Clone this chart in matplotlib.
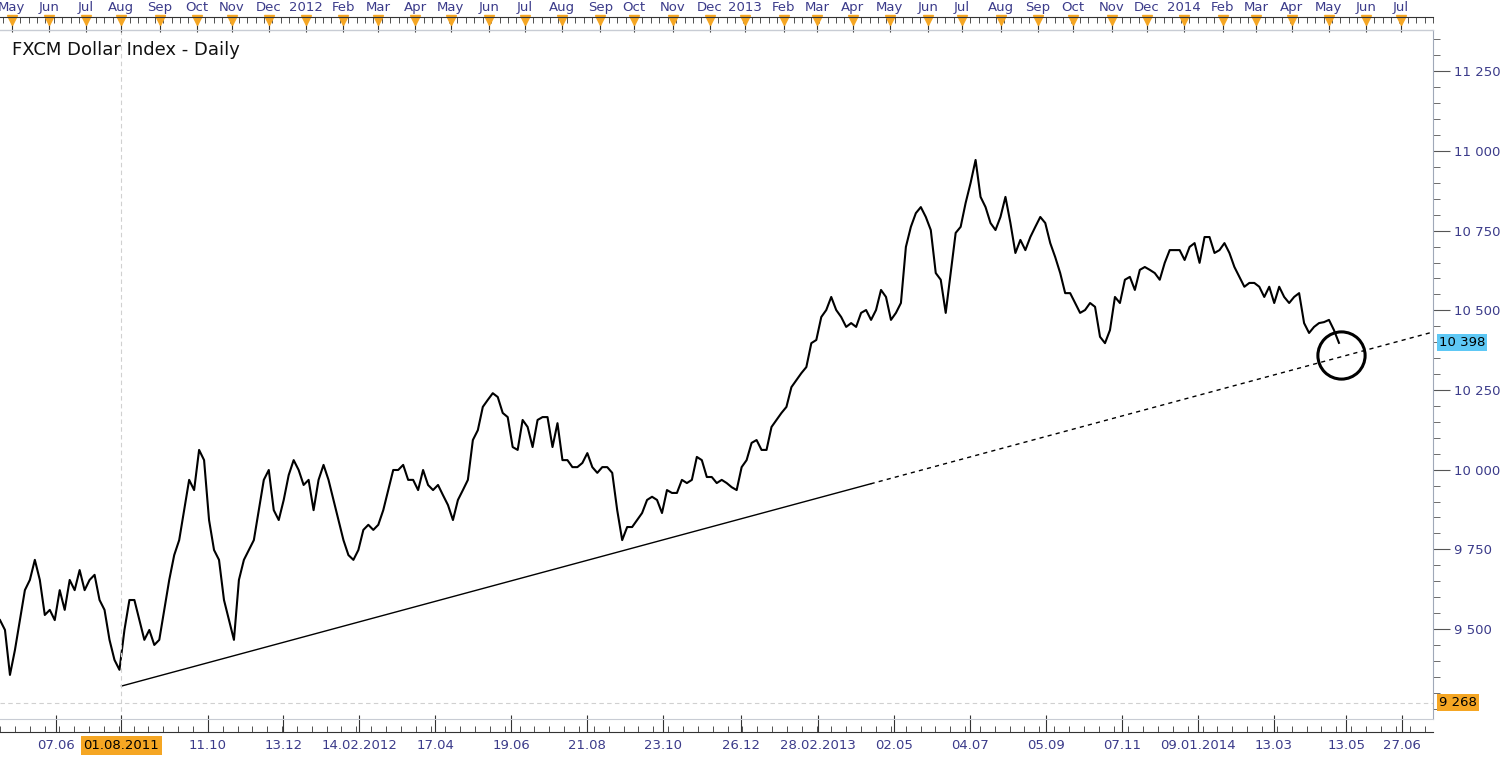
import matplotlib
matplotlib.use("Agg")
import matplotlib.pyplot as plt
import numpy as np
import pandas as pd

closes = [9528,9497,9356,9434,9528,9622,9654,9717,9654,9544,9560,9528,9622,9560,9654,9622,9685,9622,9654,9670,
9591,9560,9466,9403,9372,9497,9591,9591,9528,9466,9497,9450,9466,9560,9654,9732,9779,9873,9968,9936,
10062,10030,9842,9748,9717,9591,9528,9466,9654,9717,9748,9779,9873,9968,9999,9873,9842,9905,9983,10030,
9999,9952,9968,9873,9968,10015,9968,9905,9842,9779,9732,9717,9748,9811,9827,9811,9827,9873,9936,9999,
9999,10015,9968,9968,9936,9999,9952,9936,9952,9920,9889,9842,9905,9936,
9968,10093,10124,10197,10219,10240,10228,10178,10165,10071,10062,10156,10134,10071,10156,10165,10165,10071,10146,10030,
10030,10008,10008,10021,10052,10008,9990,10008,10008,9990,9873,9779,9820,9820,9842,9864,9905,9915,9905,9864,
9936,9927,9927,9968,9958,9968,10040,10030,9977,9977,9958,9968,9958,9945,9936,10008,10030,10084,10093,10062,
10062,10134,10156,10178,10197,10259,10281,10303,10322,10397,10407,10479,10501,10542,10501,10479,10448,10460,10448,10492,
10501,10470,10501,10564,10542,10470,10492,10523,
10699,10762,10805,10824,10793,10752,10617,10596,10492,10617,10743,10762,10837,10900,10972,10856,10824,10774,10752,10793,
10856,10774,10680,10721,10689,10730,10762,10793,10774,10711,10667,10617,10554,10554,10523,10492,10501,10523,10511,10417,
10397,10438,10542,10523,10596,10605,10564,10627,10636,10627,10617,10596,10649,10689,10689,10689,10658,10699,10711,10649,
10730,10730,10680,10689,10711,10680,10636,10605,10574,10586,10586,10574,10542,10574,10523,10574,10542,10523,10542,10554,
10460,10429,10448,10460,10463,10470,10438,10398]

start = pd.Timestamp("2011-04-21")
days = pd.bdate_range(start, "2014-08-15")
def bidx(d):
    return int(np.searchsorted(days, pd.Timestamp(d)))
PX = 1.686
last_idx = 1338/PX
x = np.linspace(0, last_idx, len(closes))
XMAX = 1432/PX

W, H = 1500, 757
fig = plt.figure(figsize=(15, 7.57), dpi=100)
fig.patch.set_facecolor("white")
txtc = "#3b3b8a"
ax = fig.add_axes([0, 1-719/H, 1433/W, (719-30)/H])
ymin = 11000 - (719-151)*3.138
ymax = 11000 + (151-30)*3.138
ax.set_xlim(0, XMAX); ax.set_ylim(ymin, ymax)
ax.plot(x, closes, color="black", lw=1.5)

# trendline
i0 = bidx("2011-08-01")
t_x = [i0, XMAX]
t_y = [9321, 10432]
split = 870/PX
ys = np.interp(split, t_x, t_y)
ax.plot([i0, split], [t_y[0], ys], color="black", lw=1)
ax.plot([split, XMAX], [ys, t_y[1]], color="black", lw=1, ls=(0, (3, 3)))
ax.plot([1340/PX], [10360], marker="o", ms=34, mfc="none", mec="black", mew=2.2)
ax.axvline(i0, color="#d0d0d0", ls=(0, (4, 3)), lw=0.8)
ax.axhline(9268, color="#d0d0d0", ls=(0, (4, 3)), lw=0.8)

ax.text(12/PX, ymax - (50-30)*3.138, "FXCM Dollar Index - Daily", fontsize=13, va="center", ha="left", color="#111")

for s in ["top", "left", "bottom"]:
    ax.spines[s].set_visible(False)
ax.spines["right"].set_color("#a0a8b8")
ax.set_xticks([])
ax.yaxis.tick_right()
yt = [9500, 9750, 10000, 10250, 10500, 10750, 11000, 11250]
ax.set_yticks(yt)
ax.set_yticklabels([f"{v//1000} {v%1000:03d}" for v in yt], color=txtc, fontsize=9.5)
ax.set_yticks(np.arange(9250, 11400, 50), minor=True)
ax.tick_params(axis="y", which="major", length=12, color="#555", pad=3)
ax.tick_params(axis="y", which="minor", length=5, color="#555")
for v, c in [(10398, "#5ec8f5"), (9268, "#f5a623")]:
    ax.text(1.004, (v-ymin)/(ymax-ymin), f"{v//1000} {v%1000:03d}", transform=ax.transAxes,
            fontsize=9.5, va="center", ha="left", color="black",
            bbox=dict(boxstyle="square,pad=0.15", fc=c, ec="none"))

# top strip
months = pd.date_range("2011-05-01", "2014-07-01", freq="MS")
mlabels = [str(m.year) if m.month == 1 else m.strftime("%b") for m in months]
mpos = [bidx(m) for m in months]
weeks = pd.date_range("2011-04-25", "2014-08-01", freq="W-MON")
wpos = [bidx(w) for w in weeks]
top = fig.add_axes([0, 1-29/H, 1433/W, 12/H])
top.set_xlim(0, XMAX); top.set_ylim(0, 1); top.set_yticks([])
for s in ["left", "right", "bottom"]:
    top.spines[s].set_visible(False)
top.spines["top"].set_color("#333")
top.xaxis.tick_top()
top.set_xticks(mpos); top.set_xticklabels(mlabels, color=txtc, fontsize=9.5)
top.set_xticks(wpos, minor=True)
top.tick_params(axis="x", which="major", direction="in", length=11, color="#333", pad=2)
top.tick_params(axis="x", which="minor", direction="in", length=4, color="#333")
top.plot(mpos, [0.75]*len(mpos), ls="none", marker="v", ms=7, color="#f5a623", clip_on=False)
fig.add_artist(plt.Line2D([0, 1433/W], [1-29.5/H]*2, color="#c8ccd4", lw=1))

# bottom strip
dl = ["2011-06-07","2011-08-01","2011-10-11","2011-12-13","2012-02-14","2012-04-17","2012-06-19","2012-08-21",
      "2012-10-23","2012-12-26","2013-02-28","2013-05-02","2013-07-04","2013-09-05","2013-11-07","2014-01-09",
      "2014-03-13","2014-05-13","2014-06-27"]
blabels = ["07.06","01.08.2011","11.10","13.12","14.02.2012","17.04","19.06","21.08","23.10","26.12",
           "28.02.2013","02.05","04.07","05.09","07.11","09.01.2014","13.03","13.05","27.06"]
bpos = [bidx(d) for d in dl]
bot = fig.add_axes([0, 1-732/H, 1433/W, 13/H])
bot.set_xlim(0, XMAX); bot.set_ylim(0, 1); bot.set_yticks([])
for s in ["left", "right"]:
    bot.spines[s].set_visible(False)
bot.spines["top"].set_color("#c8ccd4")
bot.spines["bottom"].set_color("#333")
bot.set_xticks(bpos); bot.set_xticklabels(blabels, color=txtc, fontsize=9.5)
bot.set_xticks(np.arange(0, XMAX, 8.8), minor=True)
bot.tick_params(axis="x", which="major", direction="in", length=12, color="#333", pad=5)
bot.tick_params(axis="x", which="minor", direction="in", length=4, color="#333")
for t in bot.get_xticklabels():
    if t.get_text() == "01.08.2011":
        t.set_bbox(dict(boxstyle="square,pad=0.2", fc="#f5a623", ec="none"))
        t.set_color("black")

fig.savefig("out.png", dpi=100, facecolor="white")
